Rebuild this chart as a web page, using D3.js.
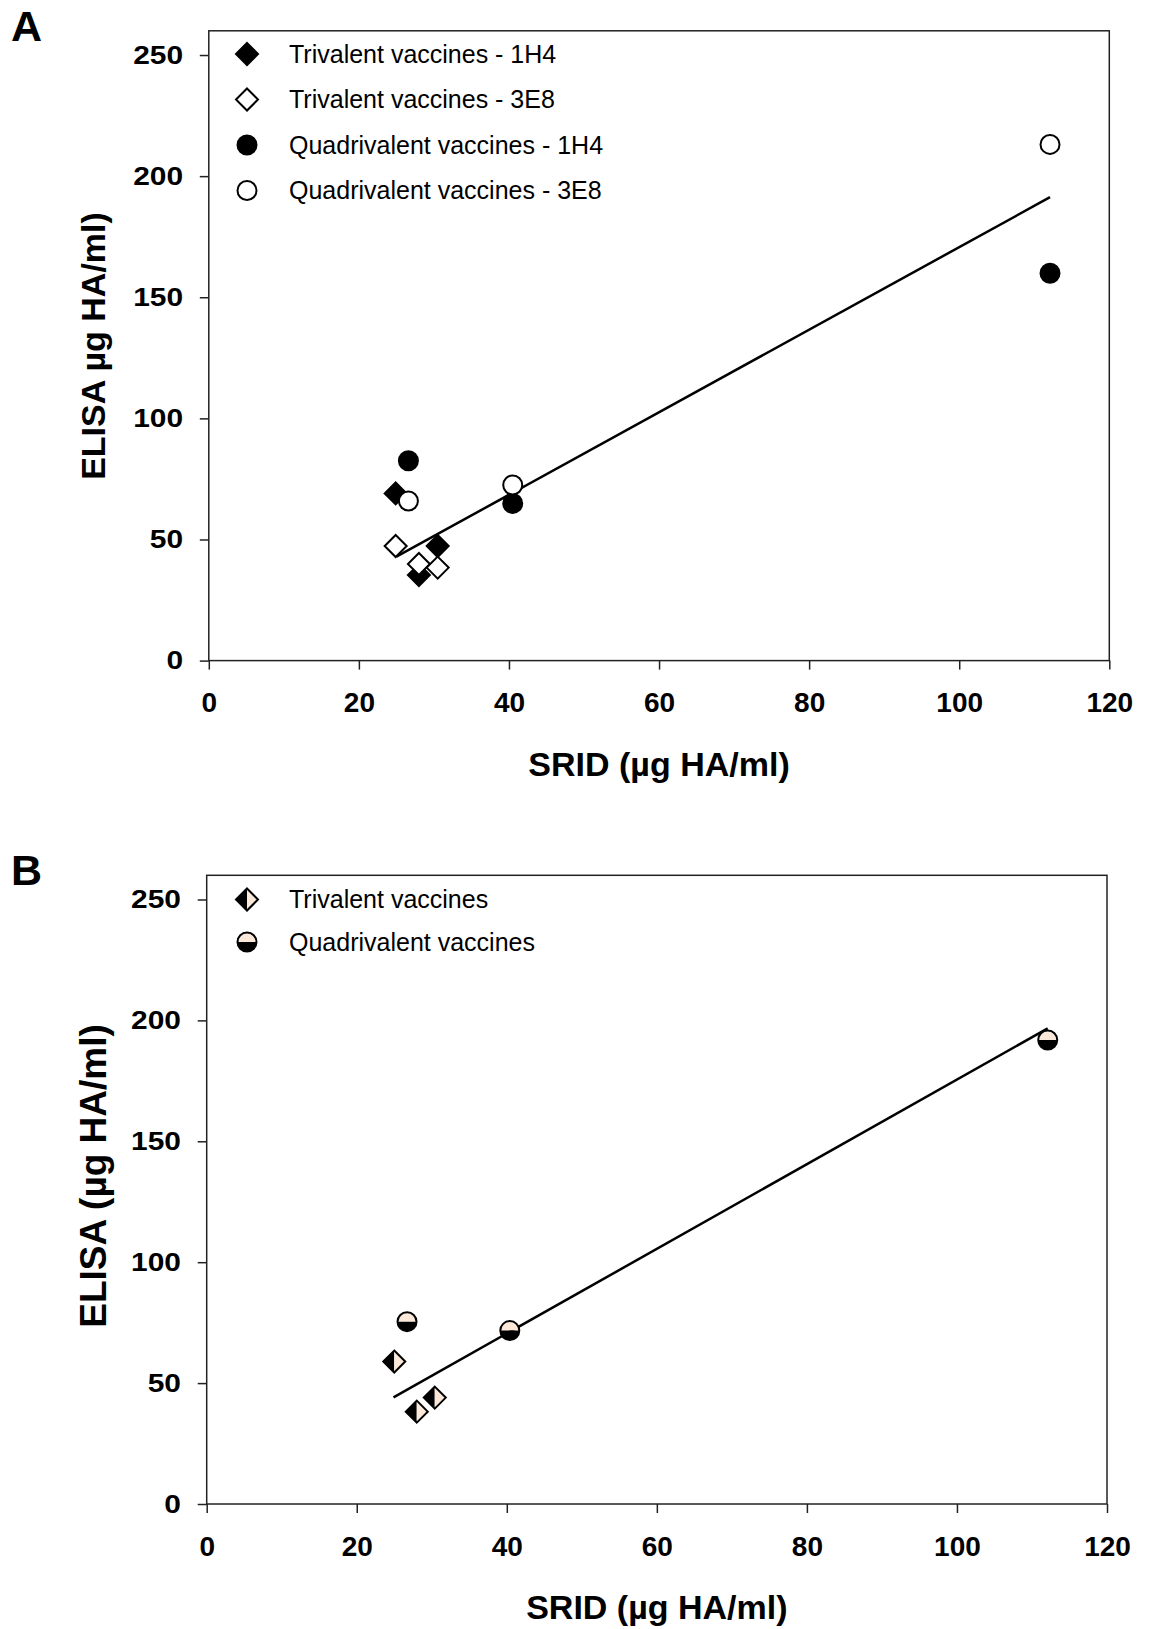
<!DOCTYPE html>
<html>
<head>
<meta charset="utf-8">
<script src="https://cdn.jsdelivr.net/npm/d3@7"></script>
<style>
body { margin: 0; background: #fff; }
svg text { font-family: "Liberation Sans", Arial, sans-serif; fill: #000; }
</style>
</head>
<body>
<div id="chart"></div>
<script>
var xTicks = [0, 20, 40, 60, 80, 100, 120];
var yTicks = [0, 50, 100, 150, 200, 250];

// panel A : SRID vs ELISA per antibody
var triSridA = [24.9, 28.0, 30.5];
var tri1H4 = [69.0, 35.3, 47.3];
var tri3E8 = [47.3, 39.9, 38.4];
var quadSridA = [26.6, 40.5, 112.1];
var quad1H4 = [82.5, 64.9, 159.9];
var quad3E8 = [65.9, 72.5, 213.1];
var fitXA = [25.0, 112.1];
var fitYA = [42.9, 191.3];

// panel B : SRID vs ELISA, antibodies combined
var triSridB = [25.0, 28.0, 30.4];
var triB = [58.9, 38.2, 44.0];
var quadSridB = [26.7, 40.4, 112.1];
var quadB = [75.4, 71.7, 191.9];
var fitXB = [24.9, 112.1];
var fitYB = [44.1, 196.7];

var cream = "#fbe8d9";
var W = 1155, H = 1629;

var svg = d3.select("#chart").append("svg")
	.attr("width", W)
	.attr("height", H);

/* markers */
function marker(g, shape) {
	var d = 11, r = 9.5;
	if (shape == "diamondFilled" || shape == "diamondOpen") {
		g.append("path")
			.attr("d", `M0,${-d}L${d},0L0,${d}L${-d},0Z`)
			.attr("fill", shape == "diamondFilled" ? "#000" : "#fff")
			.attr("stroke", "#000").attr("stroke-width", 2);
	} else if (shape == "circleFilled" || shape == "circleOpen") {
		g.append("circle").attr("r", r)
			.attr("fill", shape == "circleFilled" ? "#000" : "#fff")
			.attr("stroke", "#000").attr("stroke-width", 2);
	} else if (shape == "diamondHalf") {
		g.append("path").attr("d", `M0,${-d}L0,${d}L${-d},0Z`).attr("fill", "#000");
		g.append("path").attr("d", `M0,${-d}L${d},0L0,${d}Z`).attr("fill", cream);
		g.append("path")
			.attr("d", `M0,${-d}L${d},0L0,${d}L${-d},0Z`)
			.attr("fill", "none").attr("stroke", "#000").attr("stroke-width", 2);
	} else if (shape == "circleHalf") {
		g.append("path").attr("d", `M${-r},0A${r},${r} 0 0 1 ${r},0Z`).attr("fill", cream);
		g.append("path").attr("d", `M${-r},0A${r},${r} 0 0 0 ${r},0Z`).attr("fill", "#000");
		g.append("circle").attr("r", r)
			.attr("fill", "none").attr("stroke", "#000").attr("stroke-width", 2);
	}
}

function panel(opt) {
	var x = d3.scaleLinear().domain([0, 120]).range([opt.left, opt.right]);
	var y = d3.scaleLinear().domain([0, 260]).range([opt.bottom, opt.top]);

	var g = svg.append("g");

	// panel letter
	g.append("text")
		.attr("x", 11).attr("y", opt.top + 10)
		.style("font-size", "43px").style("font-weight", "bold")
		.text(opt.letter);

	// frame
	g.append("rect")
		.attr("x", x(0)).attr("y", y(260))
		.attr("width", x(120) - x(0)).attr("height", y(0) - y(260))
		.attr("fill", "none").attr("stroke", "#222").attr("stroke-width", 1.5);

	var xAxis = d3.axisBottom(x).tickValues(xTicks).tickSize(9).tickSizeOuter(0).tickPadding(23);
	var ax = g.append("g")
		.attr("transform", `translate(0, ${y(0)})`)
		.call(xAxis);
	ax.select(".domain").remove();
	ax.selectAll("line").attr("stroke", "#222").attr("stroke-width", 1.5);
	ax.selectAll("text")
		.style("font-size", "28px").style("font-weight", "bold");

	var yAxis = d3.axisLeft(y).tickValues(yTicks).tickSize(9).tickSizeOuter(0);
	var ay = g.append("g")
		.attr("transform", `translate(${x(0)}, 0)`)
		.call(yAxis);
	ay.select(".domain").remove();
	ay.selectAll("line").attr("stroke", "#222").attr("stroke-width", 1.5);
	ay.selectAll("text")
		.attr("x", -22.4)
		.attr("transform", "scale(1.15,1)")
		.style("font-size", "26px").style("font-weight", "bold");

	// axis titles
	g.append("text")
		.attr("x", (x(0) + x(120)) / 2).attr("y", y(0) + 115)
		.attr("text-anchor", "middle")
		.style("font-size", "34px").style("font-weight", "bold")
		.text("SRID (\u00b5g HA/ml)");

	g.append("text")
		.attr("transform", `translate(${opt.yTitleX}, ${opt.yTitleY}) rotate(-90)`)
		.attr("text-anchor", "middle")
		.style("font-size", opt.yTitleSize + "px").style("font-weight", "bold")
		.text(opt.yTitle);

	// regression line
	var line = d3.line().x(d => x(d[0])).y(d => y(d[1]));
	g.append("path")
		.attr("d", line(d3.zip(opt.fitX, opt.fitY)))
		.attr("fill", "none").attr("stroke", "#000").attr("stroke-width", 2.5);

	// points
	opt.series.forEach(function(s) {
		g.append("g").selectAll("g")
			.data(d3.zip(s.xs, s.ys)).enter()
			.append("g")
			.attr("transform", d => `translate(${x(d[0])}, ${y(d[1])})`)
			.each(function() { marker(d3.select(this), s.shape); });
	});

	// legend
	var leg = g.append("g");
	opt.series.forEach(function(s, i) {
		var ly = opt.legendY + i * opt.legendStep;
		marker(leg.append("g").attr("transform", `translate(247, ${ly})`), s.shape);
		leg.append("text")
			.attr("x", 289).attr("y", ly)
			.attr("dy", "0.35em")
			.style("font-size", "25px")
			.text(s.label);
	});
}

panel({
	letter: "A",
	left: 208.8, right: 1109.3, top: 30.8, bottom: 660.6,
	yTitle: "ELISA \u00b5g HA/ml)", yTitleX: 105, yTitleY: 346, yTitleSize: 34,
	fitX: fitXA, fitY: fitYA,
	legendY: 54, legendStep: 45.5,
	series: [
		{label: "Trivalent vaccines - 1H4", xs: triSridA, ys: tri1H4, shape: "diamondFilled"},
		{label: "Trivalent vaccines - 3E8", xs: triSridA, ys: tri3E8, shape: "diamondOpen"},
		{label: "Quadrivalent vaccines - 1H4", xs: quadSridA, ys: quad1H4, shape: "circleFilled"},
		{label: "Quadrivalent vaccines - 3E8", xs: quadSridA, ys: quad3E8, shape: "circleOpen"}
	]
});

panel({
	letter: "B",
	left: 206.7, right: 1107, top: 875.3, bottom: 1504,
	yTitle: "ELISA (\u00b5g HA/ml)", yTitleX: 106, yTitleY: 1176, yTitleSize: 37,
	fitX: fitXB, fitY: fitYB,
	legendY: 899.5, legendStep: 42.5,
	series: [
		{label: "Trivalent vaccines", xs: triSridB, ys: triB, shape: "diamondHalf"},
		{label: "Quadrivalent vaccines", xs: quadSridB, ys: quadB, shape: "circleHalf"}
	]
});
</script>
</body>
</html>
